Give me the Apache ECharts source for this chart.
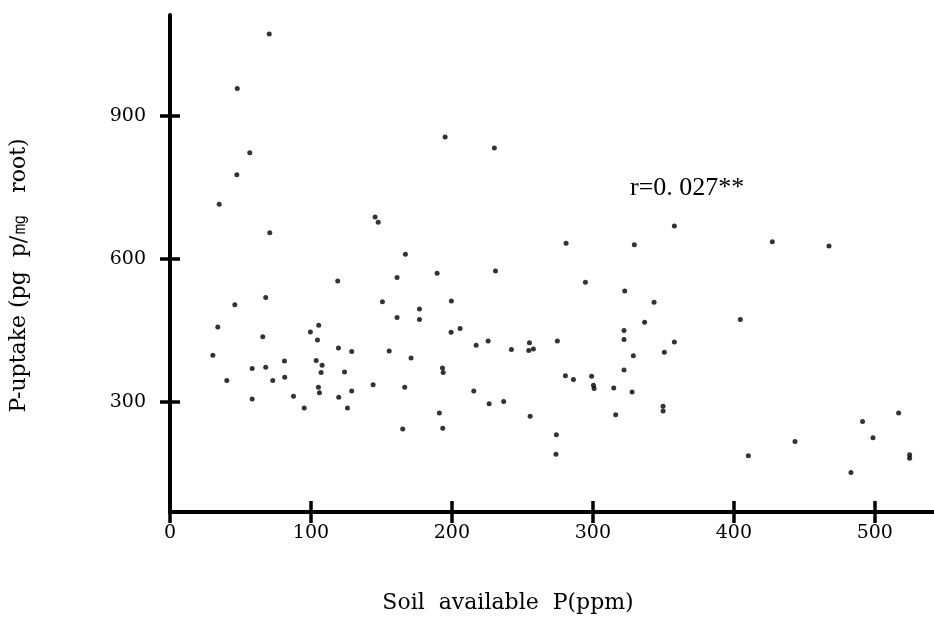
<!DOCTYPE html>
<html>
<head>
<meta charset="utf-8">
<script src="https://cdn.jsdelivr.net/npm/echarts@6/dist/echarts.min.js"></script>
<style>
html,body{margin:0;padding:0;background:#fff;}
#chart{width:934px;height:619px;}
</style>
</head>
<body>
<div id="chart"></div>
<script>
// Soil available P (ppm)
const soilP = [
  70.4, 47.7, 56.6, 47.4, 34.9, 70.8,
  119, 161.1, 67.9, 46, 150.7, 33.9, 161.1, 65.8, 105.5, 99.6, 104.6, 119.5, 128.9, 155.5,
  30.4, 81.2, 67.9, 58.3, 103.7, 107.9, 107.2, 123.8, 40.3, 72.9, 81.4, 144.1, 105.3, 106,
  128.9, 87.6, 119.7, 58.3, 125.9, 95.2,
  195.2, 230.1, 145.5, 147.7,
  167, 189.5, 230.9, 281, 329.4, 294.7, 322.6, 343.4, 177, 177, 199.6, 199.4, 205.8, 336.7,
  322.1, 322.1, 357.8, 171, 217.2, 225.7, 255, 242.2, 254.5, 257.8, 274.8, 350.7, 328.7,
  193.3, 193.8, 322.1, 280.5, 286.2, 299.1, 300.4, 300.9, 314.8, 327.8, 166.5, 215.5,
  226.4, 236.7, 191.1, 255.5, 316.2, 349.8, 349.8, 165.1, 193.5, 274.1,
  357.8, 427.3, 467.5, 404.6, 273.8, 410.3, 443.4, 491.3, 516.9, 498.7, 524.7, 524.7, 483.1
];
// P-uptake (pg p/mg root)
const pUptake = [
  1072, 958, 823, 777, 715, 655,
  554, 561, 519, 504, 510, 457, 477, 437, 461, 447, 430, 413, 406, 407,
  398, 386, 373, 370, 387, 377, 362, 363, 345, 345, 352, 336, 331, 319,
  323, 312, 310, 306, 287, 287,
  856, 833, 688, 677,
  610, 570, 575, 633, 630, 551, 533, 509, 495, 473, 512, 446, 454, 467,
  450, 431, 426, 392, 419, 428, 424, 410, 408, 411, 428, 404, 397,
  371, 362, 367, 355, 347, 354, 335, 328, 329, 321, 331, 323,
  296, 301, 277, 270, 273, 291, 281, 243, 245, 231,
  669, 636, 627, 473, 190, 187, 217, 259, 277, 225, 189, 182, 152
];
const xTicks = [0, 100, 200, 300, 400, 500];
const yTicks = [300, 600, 900];
const xTitle = 'Soil  available  P(ppm)';
const yTitle = 'P-uptake (pg  p/㎎   root)';
const annotation = 'r=0. 027**';

const points = soilP.map((x, i) => [x, pUptake[i]]);

const tickStyle = {color: '#000', width: 3.5};
const labelFont = {fontFamily: 'DejaVu Serif', fontSize: 19, color: '#000'};

const chart = echarts.init(document.getElementById('chart'), null, {renderer: 'canvas'});
chart.setOption({
  animation: false,
  backgroundColor: '#fff',
  grid: {left: 169.5, right: 0, top: 15, bottom: 107, containLabel: false},
  xAxis: [
    {
      type: 'value', min: 0, max: 542, position: 'bottom',
      name: xTitle, nameLocation: 'middle', nameGap: 80,
      nameTextStyle: {fontFamily: 'DejaVu Serif', fontSize: 22, color: '#000', padding: [0, 88, 0, 0]},
      axisLine: {show: true, lineStyle: {color: '#000', width: 4}},
      axisTick: {show: true, inside: false, length: 11, customValues: xTicks, lineStyle: tickStyle},
      axisLabel: Object.assign({customValues: xTicks, margin: 12}, labelFont),
      splitLine: {show: false}
    },
    {
      type: 'value', min: 0, max: 542, position: 'bottom',
      axisLine: {show: false},
      axisTick: {show: true, inside: true, length: 11, customValues: xTicks, lineStyle: tickStyle},
      axisLabel: {show: false},
      splitLine: {show: false}
    }
  ],
  yAxis: [
    {
      type: 'value', min: 69, max: 1112, position: 'left',
      name: yTitle, nameLocation: 'middle', nameGap: 140, nameRotate: 90,
      nameTextStyle: {fontFamily: 'DejaVu Serif', fontSize: 22, color: '#000', padding: [0, 24, 0, 0]},
      axisLine: {show: true, lineStyle: {color: '#000', width: 4}},
      axisTick: {show: true, inside: false, length: 10, customValues: yTicks, lineStyle: tickStyle},
      axisLabel: Object.assign({customValues: yTicks, margin: 24}, labelFont),
      splitLine: {show: false}
    },
    {
      type: 'value', min: 69, max: 1112, position: 'left',
      axisLine: {show: false},
      axisTick: {show: true, inside: true, length: 10, customValues: yTicks, lineStyle: tickStyle},
      axisLabel: {show: false},
      splitLine: {show: false}
    }
  ],
  graphic: [
    {
      type: 'text', left: 630, top: 175,
      style: {text: annotation, font: '26px "Liberation Serif"', fill: '#000'}
    }
  ],
  series: [
    {
      type: 'scatter', xAxisIndex: 0, yAxisIndex: 0,
      data: points, symbol: 'circle', symbolSize: 5,
      itemStyle: {color: '#000'}
    }
  ]
});
</script>
</body>
</html>
